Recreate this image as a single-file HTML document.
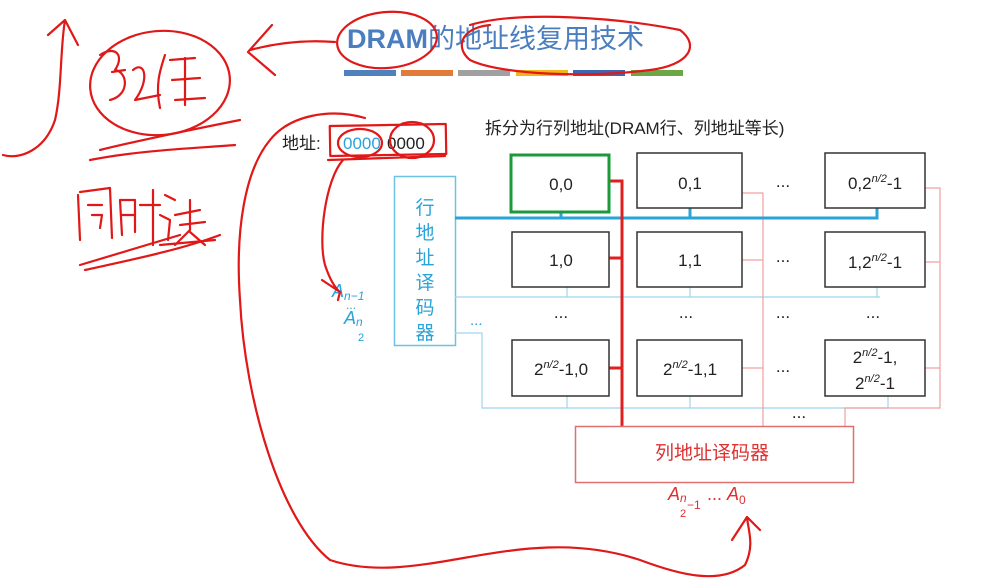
<!DOCTYPE html>
<html><head><meta charset="utf-8"><style>
html,body{margin:0;padding:0;background:#fff;}
svg{display:block;}
text{font-family:"Liberation Sans","Noto Sans CJK SC",sans-serif;}
</style></head><body>
<svg width="982" height="578" viewBox="0 0 982 578" xmlns="http://www.w3.org/2000/svg">
<rect width="982" height="578" fill="#fff"/>
<text x="347" y="48" font-size="27" font-weight="bold" fill="#4a7ebf">DRAM<tspan font-weight="normal">的地址线复用技术</tspan></text>
<g>
<rect x="344" y="70" width="52" height="6" fill="#4f81bd"/>
<rect x="401" y="70" width="52" height="6" fill="#e07b39"/>
<rect x="458" y="70" width="52" height="6" fill="#a0a0a0"/>
<rect x="516" y="70" width="52" height="6" fill="#f2b619"/>
<rect x="573" y="70" width="52" height="6" fill="#3f66b0"/>
<rect x="631" y="70" width="52" height="6" fill="#6ca646"/>
</g>
<text x="485" y="134" font-size="17" fill="#222">拆分为行列地址(DRAM行、列地址等长)</text>
<text x="282" y="149" font-size="17" fill="#222">地址:</text>
<text x="343" y="149" font-size="17" fill="#2aa3d8">0000</text><text x="387" y="149" font-size="17" fill="#222">0000</text>

<rect x="394.5" y="176.5" width="61" height="169" fill="none" stroke="#6cc1e4" stroke-width="1.5"/>
<g font-size="19" fill="#2aa3d8" text-anchor="middle">
<text x="425" y="214">行</text><text x="425" y="239">地</text><text x="425" y="264">址</text><text x="425" y="289">译</text><text x="425" y="314">码</text><text x="425" y="339">器</text>
</g>

<g fill="none" stroke="#9fd5ec" stroke-width="1.2">
<path d="M455 297 H880"/>
<path d="M567 287 V297 M690 287 V297 M877 287 V297"/>
<path d="M455 333 H482 V408 H888"/>
<path d="M567 396 V408 M690 396 V408 M888 396 V408"/>
</g>
<g fill="none" stroke="#f0a0a0" stroke-width="1.2">
<path d="M742 193 H763 V426"/>
<path d="M742 260 H763 M742 368 H763"/>
<path d="M925 188 H940 V408 H845 V426"/>
<path d="M925 262 H940 M925 368 H940"/>
</g>
<path d="M455 218 H877 V208 M561 212 V218 M690 208 V218" fill="none" stroke="#2aa3d8" stroke-width="3"/>
<path d="M609 181 H622 V426 M609 258 H622 M609 368 H622" fill="none" stroke="#e02020" stroke-width="3"/>

<g fill="#fff" stroke="#333" stroke-width="1.5">
<rect x="511" y="155" width="98" height="57" stroke="#1a9a3a" stroke-width="3"/>
<rect x="637" y="153" width="105" height="55"/>
<rect x="825" y="153" width="100" height="55"/>
<rect x="512" y="232" width="97" height="55"/>
<rect x="637" y="232" width="105" height="55"/>
<rect x="825" y="232" width="100" height="55"/>
<rect x="512" y="340" width="97" height="56"/>
<rect x="637" y="340" width="105" height="56"/>
<rect x="825" y="340" width="100" height="56"/>
</g>
<g font-size="17" fill="#222" text-anchor="middle">
<text x="561" y="190">0,0</text>
<text x="690" y="189">0,1</text>
<text x="875" y="189">0,2<tspan font-size="11" dy="-7" font-style="italic">n/2</tspan><tspan dy="7">-1</tspan></text>
<text x="561" y="266">1,0</text>
<text x="690" y="266">1,1</text>
<text x="875" y="268">1,2<tspan font-size="11" dy="-7" font-style="italic">n/2</tspan><tspan dy="7">-1</tspan></text>
<text x="561" y="375">2<tspan font-size="11" dy="-7" font-style="italic">n/2</tspan><tspan dy="7">-1,0</tspan></text>
<text x="690" y="375">2<tspan font-size="11" dy="-7" font-style="italic">n/2</tspan><tspan dy="7">-1,1</tspan></text>
<text x="875" y="363">2<tspan font-size="11" dy="-7" font-style="italic">n/2</tspan><tspan dy="7">-1,</tspan></text>
<text x="875" y="389">2<tspan font-size="11" dy="-7" font-style="italic">n/2</tspan><tspan dy="7">-1</tspan></text>
<text x="783" y="187">...</text><text x="783" y="262">...</text><text x="783" y="372">...</text>
<text x="561" y="318">...</text><text x="686" y="318">...</text><text x="783" y="318">...</text><text x="873" y="318">...</text>
<text x="799" y="418">...</text>
</g>
<text x="470" y="325" font-size="15" fill="#2aa3d8">...</text>

<rect x="575.5" y="426.5" width="278" height="56" fill="#fff" stroke="#e07070" stroke-width="1.5"/>
<text x="712" y="459" font-size="19" fill="#e03030" text-anchor="middle">列地址译码器</text>
<text x="668" y="500" font-size="18" fill="#e03030" font-style="italic" font-family="Liberation Serif,serif">A<tspan font-size="12" dy="2">n</tspan></text>
<text x="680" y="517" font-size="11" fill="#e03030" font-family="Liberation Serif,serif">2</text>
<text x="687" y="509" font-size="12" fill="#e03030" font-family="Liberation Serif,serif">−1</text>
<text x="707" y="500" font-size="18" fill="#e03030" font-family="Liberation Serif,serif">... <tspan font-style="italic">A</tspan><tspan font-size="12" dy="4">0</tspan></text>

<text x="332" y="297" font-size="18" fill="#2aa3d8" font-style="italic" font-family="Liberation Serif,serif">A<tspan font-size="12" dy="3">n−1</tspan></text>
<text x="346" y="309" font-size="12" fill="#2aa3d8">...</text>
<text x="344" y="324" font-size="18" fill="#2aa3d8" font-style="italic" font-family="Liberation Serif,serif">A<tspan font-size="12" dy="2">n</tspan></text>
<text x="358" y="341" font-size="11" fill="#2aa3d8" font-family="Liberation Serif,serif">2</text>

<g fill="none" stroke="#e01818" stroke-width="2.2" stroke-linecap="round" stroke-linejoin="round">
<ellipse cx="387" cy="40" rx="50" ry="28" transform="rotate(-5 387 40)"/>
<path d="M470 25 C520 10 620 18 680 30 C700 45 690 65 650 70 C590 78 500 75 470 60 C455 48 460 28 490 25"/>
<path d="M335 42 C310 40 280 42 250 50 M272 25 L248 52 L275 75"/>
<path d="M3 155 C20 160 45 150 55 120 C62 90 60 50 65 20 M48 35 L65 20 L78 45"/>
<ellipse cx="160" cy="83" rx="70" ry="52" transform="rotate(-5 160 83)"/>
<path d="M100 55 C115 45 125 55 115 70 C128 72 130 95 110 100 M125 70 L112 72"/>
<path d="M133 70 C145 60 150 80 135 100 L160 95"/>
<path d="M165 55 C160 70 155 85 160 108 M170 60 L195 58 M185 58 L185 105 M172 80 L200 78 M175 100 L205 98"/>
<path d="M100 150 C140 140 190 130 240 120 M90 160 C140 150 200 148 235 145"/>
<path d="M78 195 L80 240 M80 192 L110 188 L112 238 M88 205 L102 205 M92 215 L102 215 L100 228"/>
<path d="M120 200 L122 235 M120 200 L135 200 L135 232 M122 215 L134 215 M140 205 L160 205 M153 190 L153 245"/>
<path d="M165 195 L175 200 M160 215 L170 220 L168 240 M175 215 L200 210 M180 225 L205 222 M190 200 L190 230 L175 245 M190 232 L205 245 M160 245 L215 240"/>
<path d="M85 270 C130 260 180 250 220 235 M80 265 L180 235"/>
<rect x="330" y="125" width="116" height="30" transform="rotate(-1 388 140)"/>
<ellipse cx="360" cy="143" rx="22" ry="14"/>
<ellipse cx="412" cy="140" rx="22" ry="18"/>
<path d="M328 160 L445 156"/>
<path d="M343 160 C325 180 318 240 325 265 C330 280 335 288 340 292 M322 280 L340 292 L338 300"/>
<path d="M365 118 C330 108 290 115 270 140 C245 170 235 230 240 300 C245 400 280 520 330 560 C420 590 520 520 640 560 C680 575 720 585 745 565 C755 545 748 530 747 517 M732 540 L747 517 L760 530"/>
</g>
</svg>
</body></html>
